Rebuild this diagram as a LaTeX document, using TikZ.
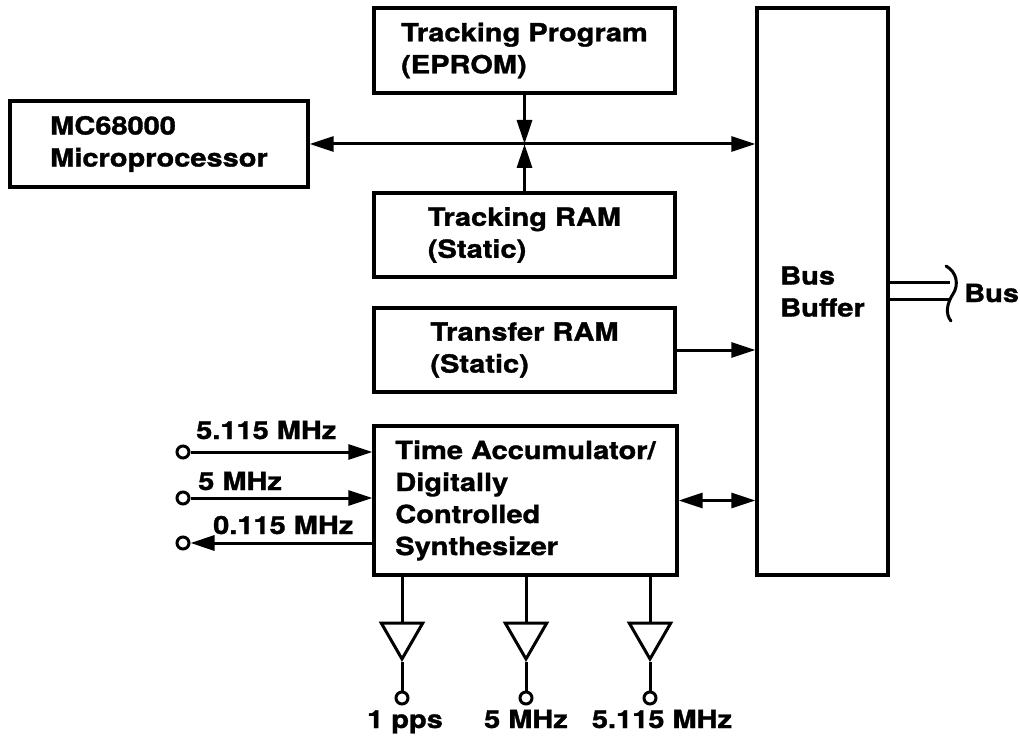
\documentclass[tikz,border=0pt]{standalone}
\usepackage{fontspec}
\setmainfont{TeX Gyre Heros}[FakeStretch=1.16,FakeBold=1.3]
\usetikzlibrary{arrows.meta,shapes.geometric}
\begin{document}
\begin{tikzpicture}[x=1pt,y=-1pt,
  txt/.style={font=\fontsize{25}{32}\selectfont\bfseries},
  box/.style={txt,draw,line width=3.4pt,inner sep=0pt,align=left},
  conn/.style={line width=3pt},
  tip/.style={conn,-{Triangle[length=24pt,width=15pt]}},
  dtip/.style={conn,{Triangle[length=24pt,width=15pt]}-{Triangle[length=24pt,width=15pt]}},
  port/.style={circle,draw,line width=3pt,inner sep=0pt,minimum size=12pt},
  amp/.style={regular polygon,regular polygon sides=3,shape border rotate=180,draw,line width=3pt,inner sep=0pt,minimum size=48pt}]
\useasboundingbox (0,0) rectangle (1020,743);
% blocks
\node[box,minimum width=298pt,minimum height=86pt] (mpu) at (159,144) {MC68000\\Microprocessor};
\node[box,minimum width=301pt,minimum height=85pt] (prog) at (524.5,50.5) {Tracking Program\\(EPROM)};
\node[box,minimum width=301pt,minimum height=84pt] (tram) at (524.5,235) {Tracking RAM\\(Static)};
\node[box,minimum width=301pt,minimum height=84pt] (xram) at (524.5,350) {Transfer RAM\\(Static)};
\node[box,minimum width=303pt,minimum height=149pt] (acc) at (525.5,500.5) {Time Accumulator/\\Digitally\\Controlled\\Synthesizer};
\node[box,minimum width=131pt,minimum height=567pt] (buf) at (822.5,291.5) {Bus\\Buffer};
% main bus
\draw[dtip] (mpu.east) -- (mpu.east -| buf.west);
\coordinate (j) at (prog.south |- mpu.east);
\draw[tip] (prog.south) -- (j);
\draw[tip] (tram.north) -- (j);
\draw[tip] (xram.east) -- (xram.east -| buf.west);
\draw[dtip] (acc.east) -- (acc.east -| buf.west);
% left ports
\node[port] (i1) at (183,452) {};
\node[port] (i2) at (183,498) {};
\node[port] (i3) at (183,543) {};
\draw[tip] (i1.east) -- (i1 -| acc.west);
\draw[tip] (i2.east) -- (i2 -| acc.west);
\draw[tip] (i3 -| acc.west) -- (i3.east);
\node[txt,anchor=base west,inner sep=0pt] (l1) at (196,439) {5.115 MHz};
\node[txt,anchor=base west,inner sep=0pt] (l2) at (198,490) {5 MHz};
\node[txt,anchor=base west,inner sep=0pt] (l3) at (213,534) {0.115 MHz};
% output amplifiers
\node[amp] (t1) at (402,635) {};
\node[amp] (t2) at (526,635) {};
\node[amp] (t3) at (650,635) {};
\node[port] (o1) at (402,698) {};
\node[port] (o2) at (526,698) {};
\node[port] (o3) at (650,698) {};
\foreach \k in {1,2,3}{
  \draw[conn] (t\k.north |- acc.south) -- (t\k.north);
  \draw[conn] (t\k.south) -- (o\k.north);
}
\node[txt,anchor=base,inner sep=0pt] (q1) at (405,728) {1 pps};
\node[txt,anchor=base,inner sep=0pt] (q2) at (526,728) {5 MHz};
\node[txt,anchor=base,inner sep=0pt] (q3) at (662,728) {5.115 MHz};
% external bus
\coordinate (bA) at (950,283);
\coordinate (bB) at (950,300);
\draw[conn] (buf.east |- bA) -- (bA);
\draw[conn] (buf.east |- bB) -- (bB);
\draw[conn,line cap=round] (946,266) .. controls (957,272) and (959,285) .. (953,294) .. controls (947,303) and (945,314) .. (951,321);
\node[txt,anchor=base west,inner sep=0pt] (busl) at (964,302) {Bus};
\end{tikzpicture}
\end{document}
